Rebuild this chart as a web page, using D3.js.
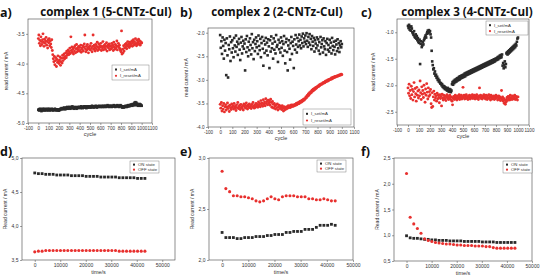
<!DOCTYPE html>
<html>
<head>
<meta charset="utf-8">
<script src="https://cdn.jsdelivr.net/npm/d3@7"></script>
<style>
  body { margin: 0; background: #fff; }
  text { font-family: "Liberation Sans", Arial, sans-serif; }
  .ttl { font-family: "Open Sans", sans-serif; font-weight: bold; }
</style>
</head>
<body>
<div id="fig"></div>
<script>
// ---- data ----
const cycles = d3.range(0, 1001, 5);

const aSet = [
  -4.78,-4.77,-4.79,-4.76,-4.78,-4.77,-4.80,-4.78,-4.76,-4.79,-4.77,-4.78,-4.76,-4.79,-4.78,-4.77,-4.78,-4.76,-4.79,-4.77,
  -4.78,-4.76,-4.77,-4.79,-4.77,-4.78,-4.76,-4.78,-4.77,-4.79,-4.78,-4.77,-4.76,-4.78,-4.77,-4.79,-4.78,-4.77,-4.78,-4.79,
  -4.79,-4.77,-4.78,-4.76,-4.77,-4.75,-4.76,-4.77,-4.75,-4.76,-4.74,-4.75,-4.77,-4.76,-4.74,-4.75,-4.73,-4.76,-4.74,-4.75,
  -4.73,-4.74,-4.76,-4.73,-4.75,-4.74,-4.72,-4.75,-4.74,-4.76,-4.74,-4.73,-4.75,-4.74,-4.76,-4.74,-4.73,-4.75,-4.74,-4.73,
  -4.74,-4.73,-4.75,-4.72,-4.74,-4.73,-4.75,-4.74,-4.72,-4.73,-4.74,-4.72,-4.73,-4.75,-4.73,-4.72,-4.74,-4.73,-4.72,-4.74,
  -4.73,-4.72,-4.74,-4.73,-4.71,-4.73,-4.72,-4.74,-4.73,-4.72,-4.73,-4.71,-4.72,-4.74,-4.72,-4.73,-4.72,-4.71,-4.73,-4.72,
  -4.72,-4.73,-4.71,-4.72,-4.73,-4.72,-4.71,-4.73,-4.72,-4.71,-4.72,-4.73,-4.71,-4.72,-4.70,-4.72,-4.71,-4.73,-4.72,-4.71,
  -4.72,-4.71,-4.73,-4.72,-4.71,-4.72,-4.70,-4.72,-4.71,-4.73,-4.72,-4.71,-4.72,-4.70,-4.71,-4.72,-4.73,-4.71,-4.72,-4.70,
  -4.71,-4.72,-4.74,-4.73,-4.72,-4.74,-4.73,-4.72,-4.73,-4.71,-4.72,-4.73,-4.71,-4.72,-4.70,-4.71,-4.72,-4.70,-4.71,-4.69,
  -4.70,-4.69,-4.71,-4.68,-4.70,-4.69,-4.66,-4.70,-4.65,-4.69,-4.66,-4.70,-4.68,-4.71,-4.69,-4.70,-4.68,-4.71,-4.69,-4.70,
  -4.71
];
const aReset = [
  -3.58,-3.52,-3.66,-3.61,-3.70,-3.55,-3.63,-3.68,-3.60,-3.50,-3.64,-3.71,-3.59,-3.66,-3.62,-3.56,-3.69,-3.63,-3.74,-3.60,
  -3.65,-3.58,-3.70,-3.62,-3.67,-3.73,-3.60,-3.78,-3.85,-3.92,-3.97,-3.88,-4.02,-3.95,-3.90,-4.05,-3.93,-3.98,-3.87,-3.96,
  -4.00,-3.94,-3.89,-4.03,-3.97,-3.91,-3.99,-3.86,-3.95,-3.90,-3.84,-3.92,-3.88,-3.82,-3.90,-3.79,-3.86,-3.83,-3.77,-3.85,
  -3.80,-3.74,-3.83,-3.55,-3.78,-3.72,-3.81,-3.76,-3.84,-3.73,-3.79,-3.70,-3.82,-3.75,-3.68,-3.80,-3.74,-3.77,-3.71,-3.79,
  -3.73,-3.78,-3.69,-3.81,-3.74,-3.76,-3.70,-3.79,-3.72,-3.67,-3.52,-3.75,-3.80,-3.71,-3.77,-3.68,-3.74,-3.82,-3.72,-3.76,
  -3.70,-3.77,-3.66,-3.74,-3.80,-3.71,-3.52,-3.76,-3.69,-3.73,-3.79,-3.68,-3.75,-3.71,-3.64,-3.78,-3.73,-3.67,-3.76,-3.70,
  -3.72,-3.66,-3.78,-3.71,-3.74,-3.63,-3.77,-3.70,-3.73,-3.68,-3.76,-3.71,-3.65,-3.79,-3.72,-3.69,-3.74,-3.67,-3.77,-3.71,
  -3.70,-3.75,-3.66,-3.73,-3.69,-3.78,-3.64,-3.72,-3.76,-3.68,-3.74,-3.70,-3.62,-3.77,-3.71,-3.66,-3.73,-3.69,-3.75,-3.78,
  -3.80,-3.45,-3.84,-3.76,-3.82,-3.70,-3.79,-3.74,-3.68,-3.72,-3.66,-3.75,-3.69,-3.63,-3.71,-3.67,-3.73,-3.64,-3.70,-3.66,
  -3.68,-3.62,-3.71,-3.65,-3.60,-3.69,-3.63,-3.67,-3.58,-3.66,-3.70,-3.61,-3.68,-3.64,-3.59,-3.67,-3.62,-3.69,-3.63,-3.66,
  -3.65
];
const bSet = [
  -2.05,-2.32,-2.18,-2.45,-2.10,-2.28,-2.55,-2.15,-2.38,-2.22,-2.90,-2.12,-2.48,-2.95,-2.26,-2.35,-2.08,-2.60,-2.20,-2.42,
  -2.16,-2.33,-2.52,-2.11,-2.27,-2.40,-2.06,-2.30,-2.19,-2.47,-2.24,-2.13,-2.36,-2.58,-2.21,-2.09,-2.44,-2.29,-2.17,-2.34,
  -2.23,-2.80,-2.14,-2.41,-2.07,-2.31,-2.50,-2.19,-2.37,-2.12,-2.26,-2.46,-2.03,-2.33,-2.20,-2.56,-2.15,-2.39,-2.24,-2.10,
  -2.31,-2.18,-2.45,-2.06,-2.28,-2.37,-2.13,-2.52,-2.22,-2.09,-2.34,-2.70,-2.17,-2.43,-2.25,-2.11,-2.38,-2.21,-2.48,-2.14,
  -2.29,-2.75,-2.16,-2.40,-2.08,-2.33,-2.23,-2.55,-2.12,-2.36,-2.19,-2.44,-2.05,-2.30,-2.26,-2.62,-2.15,-2.35,-2.21,-2.42,
  -2.10,-2.32,-2.18,-2.49,-2.24,-2.07,-2.38,-2.65,-2.20,-2.13,-2.41,-2.80,-2.27,-2.16,-2.34,-2.57,-2.22,-2.09,-2.45,-2.19,
  -2.28,-2.75,-2.14,-2.36,-2.05,-2.25,-2.42,-2.11,-2.30,-2.18,-2.04,-2.27,-2.15,-2.33,-2.08,-2.22,-2.02,-2.29,-2.12,-2.19,
  -2.06,-2.24,-2.01,-2.17,-2.30,-2.09,-2.21,-2.03,-2.26,-2.13,-2.35,-2.07,-2.19,-2.28,-2.11,-2.40,-2.16,-2.23,-2.33,-2.10,
  -2.27,-2.14,-2.38,-2.20,-2.45,-2.09,-2.31,-2.24,-2.16,-2.42,-2.12,-2.29,-2.35,-2.18,-2.47,-2.22,-2.13,-2.36,-2.26,-2.40,
  -2.15,-2.32,-2.21,-2.44,-2.11,-2.28,-2.37,-2.19,-2.30,-2.46,-2.17,-2.25,-2.39,-2.14,-2.33,-2.22,-2.41,-2.27,-2.18,-2.31,
  -2.24
];
const bReset = [
  -3.52,-3.60,-3.48,-3.66,-3.55,-3.62,-3.50,-3.68,-3.57,-3.53,-3.64,-3.58,-3.49,-3.61,-3.56,-3.67,-3.54,-3.59,-3.63,-3.51,
  -3.58,-3.55,-3.62,-3.50,-3.60,-3.56,-3.65,-3.53,-3.59,-3.48,-3.61,-3.57,-3.54,-3.63,-3.52,-3.58,-3.60,-3.55,-3.64,-3.51,
  -3.57,-3.53,-3.60,-3.49,-3.56,-3.62,-3.54,-3.58,-3.51,-3.59,-3.55,-3.61,-3.52,-3.57,-3.48,-3.56,-3.60,-3.53,-3.58,-3.50,
  -3.55,-3.52,-3.58,-3.47,-3.54,-3.50,-3.57,-3.44,-3.53,-3.49,-3.56,-3.42,-3.51,-3.47,-3.55,-3.40,-3.50,-3.46,-3.53,-3.43,
  -3.49,-3.45,-3.54,-3.41,-3.48,-3.58,-3.46,-3.52,-3.60,-3.50,-3.56,-3.62,-3.53,-3.59,-3.51,-3.64,-3.57,-3.54,-3.61,-3.56,
  -3.58,-3.63,-3.55,-3.60,-3.66,-3.57,-3.64,-3.61,-3.58,-3.62,-3.57,-3.60,-3.55,-3.58,-3.56,-3.59,-3.54,-3.57,-3.53,-3.56,
  -3.56,-3.53,-3.55,-3.52,-3.54,-3.50,-3.53,-3.49,-3.51,-3.48,-3.50,-3.46,-3.48,-3.45,-3.47,-3.43,-3.45,-3.41,-3.43,-3.40,
  -3.40,-3.36,-3.38,-3.33,-3.35,-3.30,-3.32,-3.27,-3.29,-3.25,-3.27,-3.22,-3.24,-3.20,-3.22,-3.18,-3.20,-3.16,-3.18,-3.15,
  -3.15,-3.13,-3.14,-3.11,-3.12,-3.09,-3.10,-3.08,-3.09,-3.06,-3.07,-3.05,-3.06,-3.03,-3.04,-3.02,-3.03,-3.00,-3.02,-2.99,
  -3.00,-2.98,-2.99,-2.96,-2.98,-2.95,-2.96,-2.94,-2.95,-2.93,-2.94,-2.92,-2.93,-2.91,-2.92,-2.90,-2.91,-2.89,-2.90,-2.88,
  -2.89
];
const cSet = [
  -0.88,-0.92,-0.86,-0.95,-0.90,-0.97,-0.89,-0.93,-1.00,-1.02,-1.05,-0.98,-1.08,-1.10,-1.04,-1.12,-1.07,-1.15,-1.11,-1.18,
  -1.20,-1.14,-1.60,-1.22,-1.17,-1.28,-1.25,-1.19,-1.23,-1.15,-1.12,-1.09,-1.06,-1.10,-1.03,-1.00,-0.97,-1.02,-0.96,-0.99,
  -0.98,-1.04,-1.10,-1.35,-1.55,-1.62,-1.70,-1.68,-1.78,-1.74,-1.82,-1.80,-1.86,-1.84,-1.90,-1.88,-1.93,-1.91,-1.95,-1.97,
  -1.96,-2.00,-1.98,-2.03,-2.01,-2.05,-2.02,-2.07,-2.04,-2.08,-2.06,-2.10,-2.05,-2.09,-2.12,-2.07,-2.11,-2.08,-2.13,-2.10,
  -1.98,-1.94,-1.99,-1.92,-1.96,-1.90,-1.94,-1.89,-1.93,-1.87,-1.91,-1.86,-1.90,-1.84,-1.89,-1.83,-1.87,-1.82,-1.86,-1.81,
  -1.85,-1.80,-1.84,-1.78,-1.83,-1.77,-1.81,-1.76,-1.80,-1.75,-1.79,-1.74,-1.78,-1.73,-1.77,-1.72,-1.76,-1.71,-1.75,-1.70,
  -1.74,-1.69,-1.73,-1.68,-1.72,-1.67,-1.71,-1.66,-1.70,-1.65,-1.69,-1.64,-1.68,-1.63,-1.67,-1.62,-1.66,-1.61,-1.65,-1.60,
  -1.64,-1.59,-1.63,-1.58,-1.62,-1.57,-1.61,-1.56,-1.60,-1.55,-1.59,-1.54,-1.58,-1.53,-1.57,-1.52,-1.56,-1.51,-1.55,-1.50,
  -1.53,-1.49,-1.52,-1.47,-1.51,-1.46,-1.49,-1.44,-1.48,-1.43,-1.47,-1.42,-1.63,-1.58,-1.68,-1.62,-1.55,-1.66,-1.60,-1.40,
  -1.38,-1.42,-1.36,-1.40,-1.34,-1.38,-1.32,-1.36,-1.30,-1.34,-1.28,-1.32,-1.26,-1.30,-1.24,-1.28,-1.22,-1.25,-1.18,-1.12,
  -1.10
];
const cReset = [
  -2.05,-2.15,-1.98,-2.20,-2.10,-2.25,-2.02,-2.18,-2.08,-2.28,-2.12,-1.95,-2.22,-2.06,-2.16,-2.30,-2.04,-2.19,-2.11,-2.24,
  -2.09,-2.20,-1.92,-2.14,-2.27,-2.03,-2.17,-2.10,-2.23,-2.00,-2.15,-2.32,-2.07,-2.19,-1.97,-2.13,-2.26,-2.05,-2.21,-2.12,
  -2.18,-2.08,-2.35,-2.42,-2.14,-2.40,-2.22,-2.11,-2.28,-2.17,-2.24,-2.20,-2.30,-2.15,-2.26,-2.19,-2.23,-2.33,-2.18,-2.25,
  -2.21,-2.39,-2.17,-2.24,-2.28,-2.19,-2.23,-2.26,-2.20,-2.29,-2.22,-2.18,-2.25,-2.21,-2.27,-2.23,-2.19,-2.26,-2.22,-2.28,
  -2.30,-2.37,-2.24,-2.21,-2.27,-2.23,-2.19,-2.26,-2.22,-2.28,-2.20,-2.25,-2.23,-2.18,-2.27,-2.21,-2.24,-2.19,-2.26,-2.22,
  -2.04,-2.23,-2.19,-2.26,-2.21,-2.25,-2.18,-2.24,-2.22,-2.27,-2.20,-2.23,-2.19,-2.26,-2.21,-2.24,-2.22,-2.18,-2.25,-2.20,
  -2.23,-2.19,-2.26,-2.21,-2.24,-2.18,-2.25,-2.22,-2.27,-2.20,-2.05,-2.23,-2.19,-2.25,-2.21,-2.26,-2.20,-2.23,-2.18,-2.24,
  -2.21,-2.26,-2.19,-2.23,-2.27,-2.20,-2.24,-2.18,-2.25,-2.22,-2.28,-2.19,-2.23,-2.26,-2.21,-2.24,-2.20,-2.27,-2.22,-2.25,
  -2.19,-2.24,-2.21,-2.28,-2.23,-2.20,-2.26,-2.22,-2.29,-2.24,-2.10,-2.27,-2.22,-2.30,-2.25,-2.34,-2.28,-2.36,-2.32,-2.27,
  -2.23,-2.29,-2.21,-2.26,-2.22,-2.28,-2.19,-2.25,-2.23,-2.27,-2.20,-2.26,-2.22,-2.24,-2.19,-2.27,-2.21,-2.25,-2.22,-2.28,
  -2.22
];

const times = [0,1440,2880,4320,5760,7200,8640,10080,11520,12960,14400,15840,17280,18720,20160,21600,
  23040,24480,25920,27360,28800,30240,31680,33120,34560,36000,37440,38880,40320,41760,43200];

const dOn  = [4.78,4.77,4.77,4.76,4.76,4.76,4.75,4.75,4.75,4.75,4.74,4.74,4.74,4.74,4.73,4.73,
  4.73,4.73,4.72,4.72,4.72,4.72,4.72,4.71,4.71,4.71,4.71,4.71,4.70,4.70,4.70];
const dOff = [3.62,3.63,3.63,3.64,3.64,3.64,3.64,3.64,3.64,3.64,3.64,3.64,3.64,3.64,3.64,3.64,
  3.64,3.64,3.64,3.64,3.64,3.64,3.64,3.63,3.63,3.63,3.63,3.63,3.63,3.63,3.63];
const eOn  = [2.27,2.22,2.22,2.22,2.21,2.21,2.22,2.22,2.22,2.23,2.23,2.23,2.24,2.24,2.25,2.25,
  2.25,2.27,2.27,2.28,2.28,2.28,2.30,2.30,2.30,2.32,2.34,2.34,2.34,2.35,2.34];
const eOff = [2.87,2.70,2.67,2.63,2.63,2.62,2.62,2.61,2.60,2.58,2.57,2.58,2.60,2.62,2.60,2.59,
  2.62,2.63,2.63,2.63,2.62,2.62,2.62,2.60,2.60,2.59,2.59,2.60,2.59,2.58,2.58];
const fOn  = [0.99,0.95,0.94,0.94,0.93,0.92,0.92,0.91,0.91,0.90,0.90,0.90,0.89,0.89,0.89,0.89,
  0.88,0.88,0.88,0.88,0.88,0.87,0.87,0.87,0.87,0.86,0.86,0.86,0.86,0.86,0.86];
const fOff = [2.20,1.35,1.22,1.13,1.04,0.93,0.90,0.88,0.86,0.85,0.84,0.83,0.83,0.82,0.81,0.81,
  0.80,0.80,0.80,0.79,0.79,0.79,0.78,0.78,0.76,0.75,0.75,0.75,0.75,0.75,0.75];

const topTitles = ["complex 1 (5-CNTz-CuI)", "complex 2 (2-CNTz-CuI)", "complex 3 (4-CNTz-CuI)"];
const cycleTicks = d3.range(-100, 1101, 100);
const timeTicks = [0, 10000, 20000, 30000, 40000, 50000];
const topNames = ["I_set/mA", "I_reset/mA"];
const botNames = ["ON state", "OFF state"];

const BLACK = "#2a2a2a", RED = "#e8302e";

const svg = d3.select("#fig").append("svg")
  .attr("width", 546).attr("height", 279);

const dotFmt = d => d3.format(".1f")(d).replace("−", "-");
const commaFmt = d => d3.format(".1f")(d).replace(".", ",");

function panel(p) {
  const g = svg.append("g");
  const x = d3.scaleLinear().domain(p.xDom).range([p.left, p.right]);
  const y = d3.scaleLinear().domain(p.yDom).range([p.bottom, p.top]);

  g.append("rect")
    .attr("x", p.left).attr("y", p.top)
    .attr("width", p.right - p.left).attr("height", p.bottom - p.top)
    .attr("fill", "none").attr("stroke", "#444").attr("stroke-width", 0.6);

  const xa = g.append("g")
    .attr("transform", `translate(0,${p.bottom})`)
    .call(d3.axisBottom(x).tickValues(p.xTicks).tickSize(2).tickPadding(1.5).tickFormat(p.xFmt));
  const ya = g.append("g")
    .attr("transform", `translate(${p.left},0)`)
    .call(d3.axisLeft(y).tickValues(p.yTicks).tickSize(2).tickPadding(1.5).tickFormat(p.yFmt));
  [xa, ya].forEach(a => {
    a.select(".domain").remove();
    a.selectAll("line").attr("stroke", "#444").attr("stroke-width", 0.5);
    a.selectAll("text").attr("font-size", p.tickSize).attr("fill", "#333");
  });

  // axis titles
  g.append("text")
    .attr("x", (p.left + p.right) / 2).attr("y", p.bottom + p.xLabOff)
    .attr("text-anchor", "middle").attr("font-size", 5.5).attr("fill", "#333")
    .text(p.xLabel);
  g.append("text")
    .attr("transform", `translate(${p.left - p.yLabOff},${(p.top + p.bottom) / 2}) rotate(-90)`)
    .attr("text-anchor", "middle").attr("font-size", 5).attr("fill", "#333")
    .text(p.yLabel);

  // points
  p.series.forEach(s => {
    const pts = s.xs.map((v, i) => [v, s.ys[i]]);
    if (s.shape === "square") {
      g.append("g").selectAll("rect").data(pts).join("rect")
        .attr("x", d => x(d[0]) - p.ms / 2).attr("y", d => y(d[1]) - p.ms / 2)
        .attr("width", p.ms).attr("height", p.ms).attr("fill", s.color);
    } else {
      g.append("g").selectAll("circle").data(pts).join("circle")
        .attr("cx", d => x(d[0])).attr("cy", d => y(d[1]))
        .attr("r", p.ms / 2 + 0.15).attr("fill", s.color);
    }
  });

  // legend
  const L = p.legend;
  g.append("rect").attr("x", L.x).attr("y", L.y).attr("width", L.w).attr("height", L.h)
    .attr("fill", "#fff").attr("stroke", "#666").attr("stroke-width", 0.4);
  p.series.forEach((s, i) => {
    const cy = L.y + L.h * (i === 0 ? 0.3 : 0.72);
    if (s.shape === "square") {
      g.append("rect").attr("x", L.x + 4 - 1).attr("y", cy - 1).attr("width", 2).attr("height", 2).attr("fill", s.color);
    } else {
      g.append("circle").attr("cx", L.x + 4).attr("cy", cy).attr("r", 1.1).attr("fill", s.color);
    }
    g.append("text").attr("x", L.x + 8).attr("y", cy + 1.5)
      .attr("font-size", 4.3).attr("fill", "#333").text(s.name);
  });
}

const topPanels = [
  { left: 28, right: 152, top: 19, bottom: 123, yDom: [-5.0, -3.25], yTicks: [-5.0, -4.5, -4.0, -3.5],
    set: aSet, reset: aReset, legend: { x: 112, y: 65, w: 37, h: 15 }, yLabOff: 20 },
  { left: 208, right: 354, top: 28, bottom: 127, yDom: [-4.0, -1.9], yTicks: [-4.0, -3.5, -3.0, -2.5, -2.0],
    set: bSet, reset: bReset, legend: { x: 303, y: 109, w: 48, h: 16 }, yLabOff: 20 },
  { left: 397, right: 529, top: 19, bottom: 125, yDom: [-2.75, -0.75], yTicks: [-2.5, -2.0, -1.5, -1.0],
    set: cSet, reset: cReset, legend: { x: 486, y: 21, w: 42, h: 14 }, yLabOff: 22 }
];
topPanels.forEach(t => panel({
  left: t.left, right: t.right, top: t.top, bottom: t.bottom,
  xDom: [-100, 1100], yDom: t.yDom, xTicks: cycleTicks, yTicks: t.yTicks,
  xFmt: d => String(d), yFmt: dotFmt, tickSize: 4.6,
  xLabel: "cycle", yLabel: "read current / mA", xLabOff: 13, yLabOff: t.yLabOff,
  ms: 2.6, legend: t.legend,
  series: [
    { name: topNames[0], xs: cycles, ys: t.set, color: BLACK, shape: "square" },
    { name: topNames[1], xs: cycles, ys: t.reset, color: RED, shape: "circle" }
  ]
}));

const botPanels = [
  { left: 22, right: 175, top: 158, bottom: 260, xDom: [-5000, 55000], yDom: [3.5, 5.0], yTicks: [3.5, 4.0, 4.5, 5.0],
    on: dOn, off: dOff, legend: { x: 130, y: 161, w: 29, h: 12 } },
  { left: 209, right: 353, top: 158, bottom: 260, xDom: [-5000, 50000], yDom: [2.0, 3.0], yTicks: [2.0, 2.5, 3.0],
    on: eOn, off: eOff, legend: { x: 317, y: 160, w: 29, h: 12 } },
  { left: 394, right: 532, top: 158, bottom: 261, xDom: [-5000, 50000], yDom: [0.5, 2.5], yTicks: [0.5, 1.0, 1.5, 2.0, 2.5],
    on: fOn, off: fOff, legend: { x: 503, y: 161, w: 29, h: 12 } }
];
botPanels.forEach(b => panel({
  left: b.left, right: b.right, top: b.top, bottom: b.bottom,
  xDom: b.xDom, yDom: b.yDom, xTicks: timeTicks, yTicks: b.yTicks,
  xFmt: d => String(d), yFmt: commaFmt, tickSize: 5,
  xLabel: "time/s", yLabel: "Read current / mA", xLabOff: 14, yLabOff: 15,
  ms: 2.8, legend: b.legend,
  series: [
    { name: botNames[0], xs: times, ys: b.on, color: BLACK, shape: "square" },
    { name: botNames[1], xs: times, ys: b.off, color: RED, shape: "circle" }
  ]
}));

// panel letters and titles
const letters = [["a)", 0, 17], ["b)", 180, 17], ["c)", 361, 17], ["d)", 0, 156], ["e)", 180, 156], ["f)", 361, 156]];
letters.forEach(l => svg.append("text").attr("class", "ttl")
  .attr("x", l[1]).attr("y", l[2]).attr("font-size", 12.5).attr("fill", "#111").text(l[0]));
[[106, 16], [277, 16], [467, 16]].forEach((c, i) => svg.append("text").attr("class", "ttl")
  .attr("x", c[0]).attr("y", c[1]).attr("text-anchor", "middle")
  .attr("font-size", 11.6).attr("fill", "#111").text(topTitles[i]));
</script>
</body>
</html>
